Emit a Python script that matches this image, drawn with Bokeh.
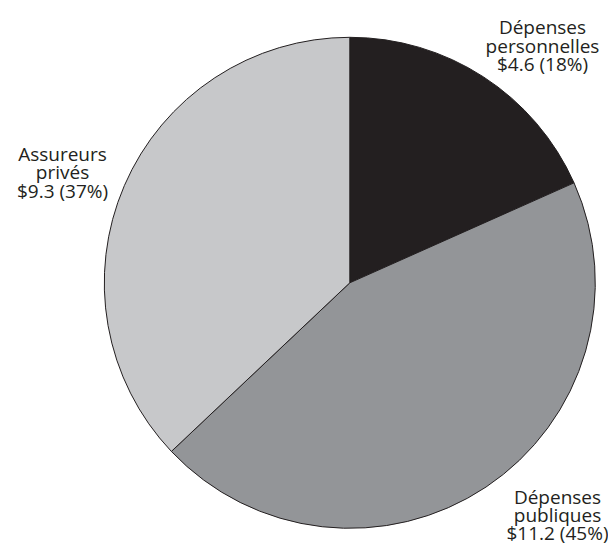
import numpy as np
from bokeh.plotting import figure
from bokeh.models import Range1d, ColumnDataSource
from bokeh.core.properties import value
from bokeh.embed import file_html
from bokeh.resources import INLINE

# Health spending by source of funds (billions)
categories = ["Dépenses personnelles", "Dépenses publiques", "Assureurs privés"]
name_lines = [["Dépenses", "personnelles"], ["Dépenses", "publiques"], ["Assureurs", "privés"]]
amounts = [4.6, 11.2, 9.3]
percents = [18, 45, 37]
colors = ["#231f20", "#939598", "#c7c8ca"]

W, H = 608, 546
p = figure(width=W, height=H, x_range=Range1d(0, W), y_range=Range1d(0, H),
           min_border=0, toolbar_location=None, output_backend="svg")
p.axis.visible = False
p.grid.visible = False
p.outline_line_color = None
p.background_fill_color = "white"
p.border_fill_color = "white"

# Slices run clockwise from twelve o'clock
cx, cy, r = 349.3, H - 282.3, 245.5
vals = np.array(amounts)
cum = np.concatenate([[0], np.cumsum(vals)]) / vals.sum()
start = np.pi / 2 - 2 * np.pi * cum[:-1]
end = np.pi / 2 - 2 * np.pi * cum[1:]
src = ColumnDataSource(dict(start=start, end=end, color=colors, name=categories))
p.wedge(x=cx, y=cy, radius=r, start_angle="start", end_angle="end",
        direction="clock", fill_color="color", line_color="#231f20",
        line_width=1, source=src)

# Label anchors: (centre x, first baseline from top)
anchors = [(542, 26.7), (557, 496.0), (62, 153.3)]
line_gap = 18.4

xs, ys, texts = [], [], []
for (ax, ay), names, amt, pct in zip(anchors, name_lines, amounts, percents):
    lines = names + [f"${amt} ({pct}%)"]
    for i, t in enumerate(lines):
        xs.append(ax)
        ys.append(H - (ay + i * line_gap))
        texts.append(t)

p.text(x=xs, y=ys, text=texts, text_align="center", text_baseline="alphabetic",
       text_font=value("Open Sans"), text_font_size="19px", text_color="#231f20")

open("out.html", "w").write(file_html(p, INLINE))
